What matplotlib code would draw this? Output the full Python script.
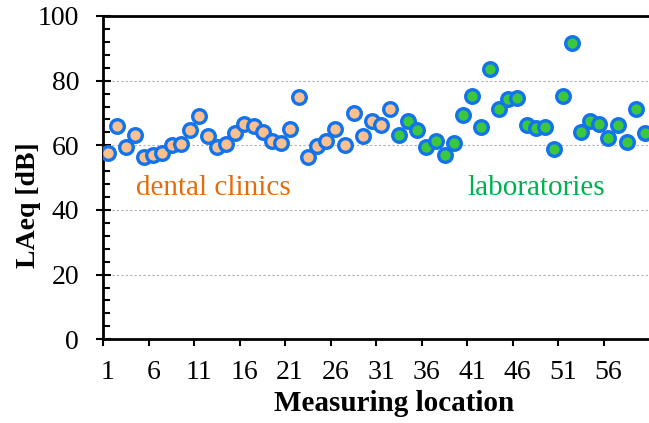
import matplotlib.pyplot as plt
from matplotlib.ticker import MultipleLocator, FixedLocator

plt.rcParams['font.family'] = ['Liberation Serif', 'DejaVu Serif']

# LAeq readings per measuring location
dental = [57.7, 66.0, 59.5, 63.2, 56.4, 57.1, 57.7, 60.0, 60.3, 64.7,
          69.0, 62.9, 59.5, 60.5, 63.8, 66.5, 66.0, 64.2, 61.4, 60.8,
          64.9, 75.0, 56.3, 59.8, 61.4, 64.9, 60.0, 70.0, 62.9, 67.6,
          66.2, 71.1]
labs = [63.1, 67.6, 64.8, 59.5, 61.4, 57.0, 60.6, 69.4, 75.1, 65.7,
        83.5, 71.3, 74.4, 74.7, 66.3, 65.3, 65.8, 58.8, 75.2, 91.6,
        64.0, 67.4, 66.5, 62.4, 66.4, 61.0, 71.1, 63.7]
x_dental = list(range(1, len(dental) + 1))
x_labs = list(range(len(dental) + 1, len(dental) + len(labs) + 1))
tick_labels = [1, 6, 11, 16, 21, 26, 31, 36, 41, 46, 51, 56]

fig = plt.figure(figsize=(6.49, 4.23), dpi=100)
ax = fig.add_axes([0.1592, 0.1979, 0.8408, 0.7643])

edge = '#1273EE'
ax.plot(x_dental, dental, 'o', ms=9.8, mfc='#FAC090', mec=edge, mew=2.4, zorder=3)
ax.plot(x_labs, labs, 'o', ms=9.8, mfc='#3CC83C', mec=edge, mew=2.4, zorder=3)

ax.set_xlim(0.5, 60.45)
ax.set_ylim(0, 100)

for v in [20, 40, 60, 80]:
    ax.axhline(v, color='#B0B0B0', lw=0.8, ls=(0, (2, 2)), zorder=1)

ax.yaxis.set_major_locator(MultipleLocator(20))
ax.yaxis.set_minor_locator(MultipleLocator(4))
ax.xaxis.set_major_locator(FixedLocator(tick_labels))
ax.xaxis.set_minor_locator(FixedLocator([t - 0.5 for t in tick_labels]))
ax.set_xticklabels([str(t) for t in tick_labels])

ax.tick_params(axis='y', which='major', direction='inout', length=10.8, width=1.5,
               labelsize=20, pad=12)
ax.tick_params(axis='y', which='minor', direction='in', length=5, width=1.5)
ax.tick_params(axis='x', which='major', length=0, labelsize=20, pad=15)
ax.tick_params(axis='x', which='minor', direction='out', length=5, width=1.5)

for s in ['left', 'bottom', 'top']:
    ax.spines[s].set_linewidth(2)
ax.spines['right'].set_visible(False)

ax.text(12.55, 46.8, 'dental clinics', color='#E46C0A', fontsize=21,
        ha='center', va='center')
ax.text(48.05, 46.8, 'laboratories', color='#00B050', fontsize=21,
        ha='center', va='center')

ax.set_xlabel('Measuring location', fontsize=21, fontweight='bold')
ax.set_ylabel('LAeq [dB]', fontsize=20, fontweight='bold')
ax.xaxis.set_label_coords(0.533, -0.2)
ax.yaxis.set_label_coords(-0.138, 0.415)
ax.xaxis.label.set_va('center')
ax.yaxis.label.set_va('center')

fig.savefig('out.png', dpi=100)
